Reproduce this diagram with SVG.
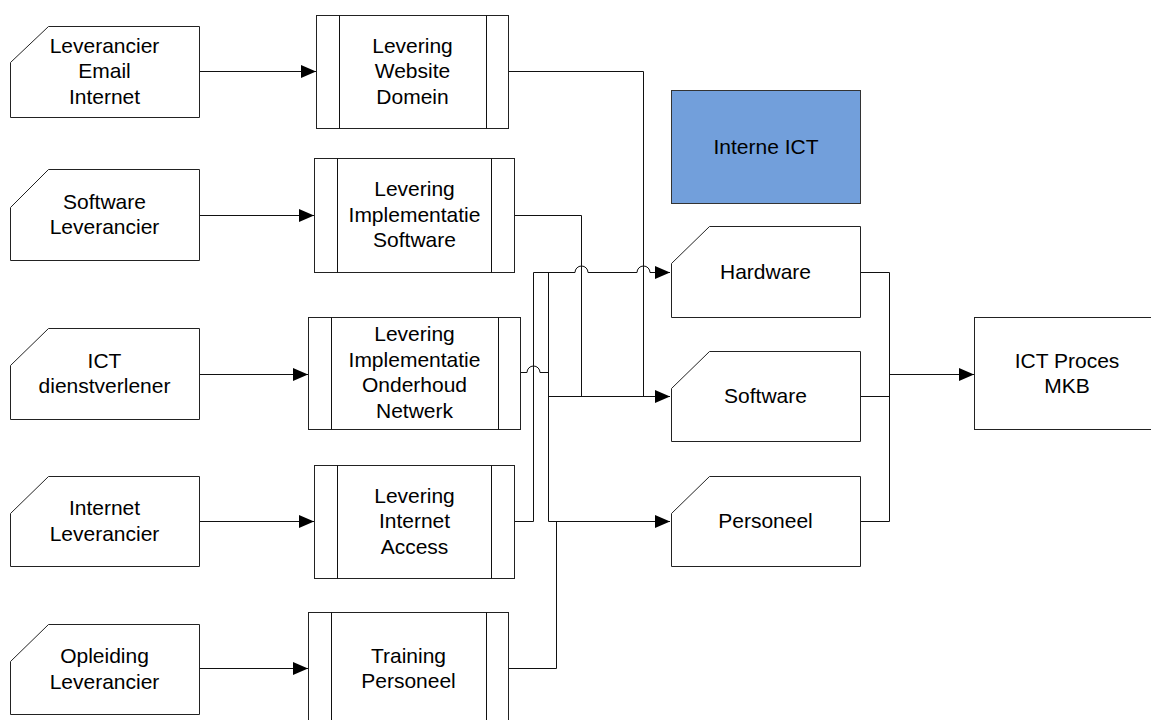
<svg xmlns="http://www.w3.org/2000/svg" width="1151" height="720" viewBox="0 0 1151 720">
<style>
.box{fill:#fff;stroke:#222;stroke-width:1}
.blue{fill:#729fdb;stroke:#333;stroke-width:1}
.ln{fill:none;stroke:#111;stroke-width:1}
text{font-family:"Liberation Sans",Arial,sans-serif;font-size:21px;text-anchor:middle;fill:#000}
</style>
<defs>
<marker id="arr" markerUnits="userSpaceOnUse" markerWidth="15" markerHeight="14" refX="15" refY="7" orient="auto">
<path d="M0,0.5 L15,7 L0,13.5 Z" fill="#000"/>
</marker>
</defs>
<rect width="1151" height="720" fill="#fff"/>

<g id="connectors">
<path class="ln" d="M199,71.5 H316" marker-end="url(#arr)"/>
<path class="ln" d="M199,215.5 H314" marker-end="url(#arr)"/>
<path class="ln" d="M199,374.5 H308" marker-end="url(#arr)"/>
<path class="ln" d="M199,521.5 H314" marker-end="url(#arr)"/>
<path class="ln" d="M199,668.5 H308" marker-end="url(#arr)"/>
<path class="ln" d="M508,71.5 H643.5 V396.5"/>
<path class="ln" d="M514,215.5 H581.5 V396.5"/>
<path class="ln" d="M514,521.5 H533.5 V272.5 H575 A6.5,6.5 0 0 1 588,272.5 H637 A6.5,6.5 0 0 1 650,272.5 H670" marker-end="url(#arr)"/>
<path class="ln" d="M520,372.5 H527 A6.5,6.5 0 0 1 540,372.5 H548.5"/>
<path class="ln" d="M548.5,272.5 V521.5"/>
<path class="ln" d="M548.5,396.5 H670" marker-end="url(#arr)"/>
<path class="ln" d="M548.5,521.5 H670" marker-end="url(#arr)"/>
<path class="ln" d="M508,668.5 H556.5 V521.5"/>
<path class="ln" d="M860,272.5 H889.5 V521.5 H860"/>
<path class="ln" d="M860,396.5 H889.5"/>
<path class="ln" d="M889.5,374.5 H974" marker-end="url(#arr)"/>
</g>

<g id="leverancier-email-internet">
<path class="box" d="M10.5,62.5 L48.5,26.5 H199.5 V117.5 H10.5 Z"/>
<text x="104.5" y="52.5">Leverancier</text>
<text x="104.5" y="78">Email</text>
<text x="104.5" y="103.5">Internet</text>
</g>
<g id="software-leverancier">
<path class="box" d="M10.5,207.5 L48.5,169.5 H199.5 V260.5 H10.5 Z"/>
<text x="104.5" y="208.5">Software</text>
<text x="104.5" y="234">Leverancier</text>
</g>
<g id="ict-dienstverlener">
<path class="box" d="M10.5,365.5 L48.5,328.5 H199.5 V419.5 H10.5 Z"/>
<text x="104.5" y="367.5">ICT</text>
<text x="104.5" y="393">dienstverlener</text>
</g>
<g id="internet-leverancier">
<path class="box" d="M10.5,513.5 L48.5,476.5 H199.5 V566.5 H10.5 Z"/>
<text x="104.5" y="515">Internet</text>
<text x="104.5" y="540.5">Leverancier</text>
</g>
<g id="opleiding-leverancier">
<path class="box" d="M10.5,661.5 L48.5,624.5 H199.5 V714.5 H10.5 Z"/>
<text x="104.5" y="663">Opleiding</text>
<text x="104.5" y="688.5">Leverancier</text>
</g>

<g id="levering-website-domein">
<rect class="box" x="316.5" y="15.5" width="192" height="113"/>
<path class="ln" d="M339.5,15.5 V128.5 M486.5,15.5 V128.5"/>
<text x="412.5" y="52.5">Levering</text>
<text x="412.5" y="78">Website</text>
<text x="412.5" y="103.5">Domein</text>
</g>
<g id="levering-implementatie-software">
<rect class="box" x="314.5" y="158.5" width="200" height="114"/>
<path class="ln" d="M337.5,158.5 V272.5 M491.5,158.5 V272.5"/>
<text x="414.5" y="196">Levering</text>
<text x="414.5" y="221.5">Implementatie</text>
<text x="414.5" y="247">Software</text>
</g>
<g id="levering-implementatie-onderhoud-netwerk">
<rect class="box" x="308.5" y="317.5" width="212" height="112"/>
<path class="ln" d="M331.5,317.5 V429.5 M498.5,317.5 V429.5"/>
<text x="414.5" y="341">Levering</text>
<text x="414.5" y="366.5">Implementatie</text>
<text x="414.5" y="392">Onderhoud</text>
<text x="414.5" y="417.5">Netwerk</text>
</g>
<g id="levering-internet-access">
<rect class="box" x="314.5" y="465.5" width="200" height="113"/>
<path class="ln" d="M337.5,465.5 V578.5 M491.5,465.5 V578.5"/>
<text x="414.5" y="502.5">Levering</text>
<text x="414.5" y="528">Internet</text>
<text x="414.5" y="553.5">Access</text>
</g>
<g id="training-personeel">
<rect class="box" x="308.5" y="612.5" width="200" height="113"/>
<path class="ln" d="M331.5,612.5 V725 M486.5,612.5 V725"/>
<text x="408.5" y="662.5">Training</text>
<text x="408.5" y="687.5">Personeel</text>
</g>

<g id="interne-ict">
<rect class="blue" x="671.5" y="90.5" width="189" height="113"/>
<text x="766" y="154">Interne ICT</text>
</g>
<g id="hardware">
<path class="box" d="M671.5,263.5 L709.5,226.5 H860.5 V317.5 H671.5 Z"/>
<text x="765.5" y="279">Hardware</text>
</g>
<g id="software">
<path class="box" d="M671.5,388.5 L709.5,351.5 H860.5 V441.5 H671.5 Z"/>
<text x="765.5" y="403">Software</text>
</g>
<g id="personeel">
<path class="box" d="M671.5,513.5 L709.5,476.5 H860.5 V566.5 H671.5 Z"/>
<text x="765.5" y="528">Personeel</text>
</g>
<g id="ict-proces-mkb">
<rect class="box" x="974.5" y="317.5" width="190" height="112"/>
<text x="1067" y="368">ICT Proces</text>
<text x="1067" y="393">MKB</text>
</g>
</svg>
